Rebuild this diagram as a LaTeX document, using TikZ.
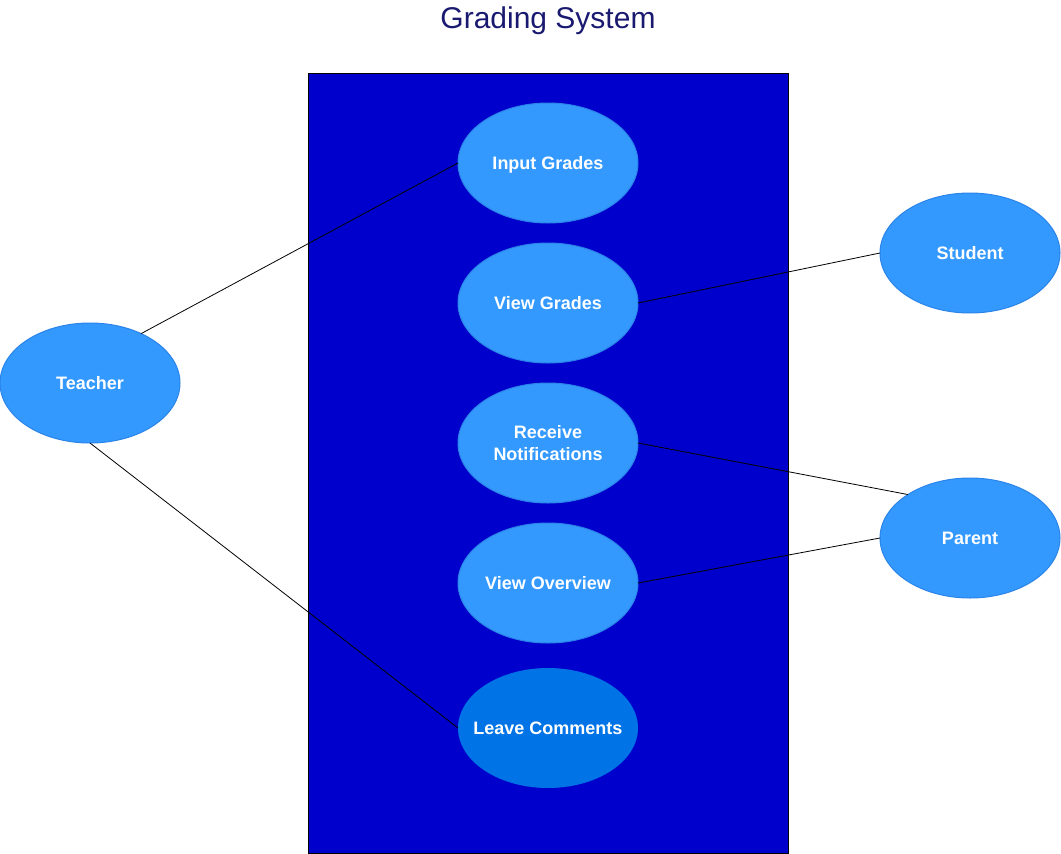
\documentclass[tikz,border=0pt]{standalone}
\usepackage{fontspec}
\setmainfont{Liberation Sans}
\usetikzlibrary{shapes.geometric, positioning}
\definecolor{sysblue}{HTML}{0000CC}
\definecolor{caseblue}{HTML}{3399FF}
\definecolor{caseedge}{HTML}{2B84E8}
\definecolor{darkcase}{HTML}{0073E6}
\definecolor{titleblue}{HTML}{191970}

\begin{document}
\begin{tikzpicture}[x=1pt, y=-1pt, node distance=20pt,
    case/.style={ellipse, fill=caseblue, draw=caseedge, line width=1pt, outer sep=0pt,
        minimum width=180pt, minimum height=120pt, inner xsep=-20pt, inner ysep=0pt,
        text=white, font=\fontsize{18}{21.6}\selectfont\bfseries, align=center,
        text height=13pt, text depth=0pt},
    link/.style={line width=0.8pt}]
    \useasboundingbox (0,0) rectangle (1061,854);
    \node[anchor=base, text=titleblue, font=\fontsize{30}{36}\selectfont] (title) at (548,28) {Grading System};

    % system boundary
    \draw[fill=sysblue, line width=1pt] (308.5,73.5) rectangle (788.5,853.5);

    % use cases
    \node[case] (input) at (548,163) {Input Grades};
    \node[case, below=of input] (view) {View Grades};
    \node[case, below=of view, text height={}, text depth={}] (receive) {Receive\\Notifications};
    \node[case, below=of receive] (overview) {View Overview};
    \node[case, below=25pt of overview, fill=darkcase, draw=none] (leave) {Leave Comments};

    % actors
    \node[case] (teacher) at (90,383) {Teacher};
    \node[case] (student) at (970,253) {Student};
    \node[case] (parent) at (970,538) {Parent};

    \draw[link] (teacher.44) -- (input.west);
    \draw[link] (teacher.south) -- (leave.west);
    \draw[link] (view.east) -- (student.west);
    \draw[link] (receive.east) -- (parent.145);
    \draw[link] (overview.east) -- (parent.west);
\end{tikzpicture}
\end{document}
